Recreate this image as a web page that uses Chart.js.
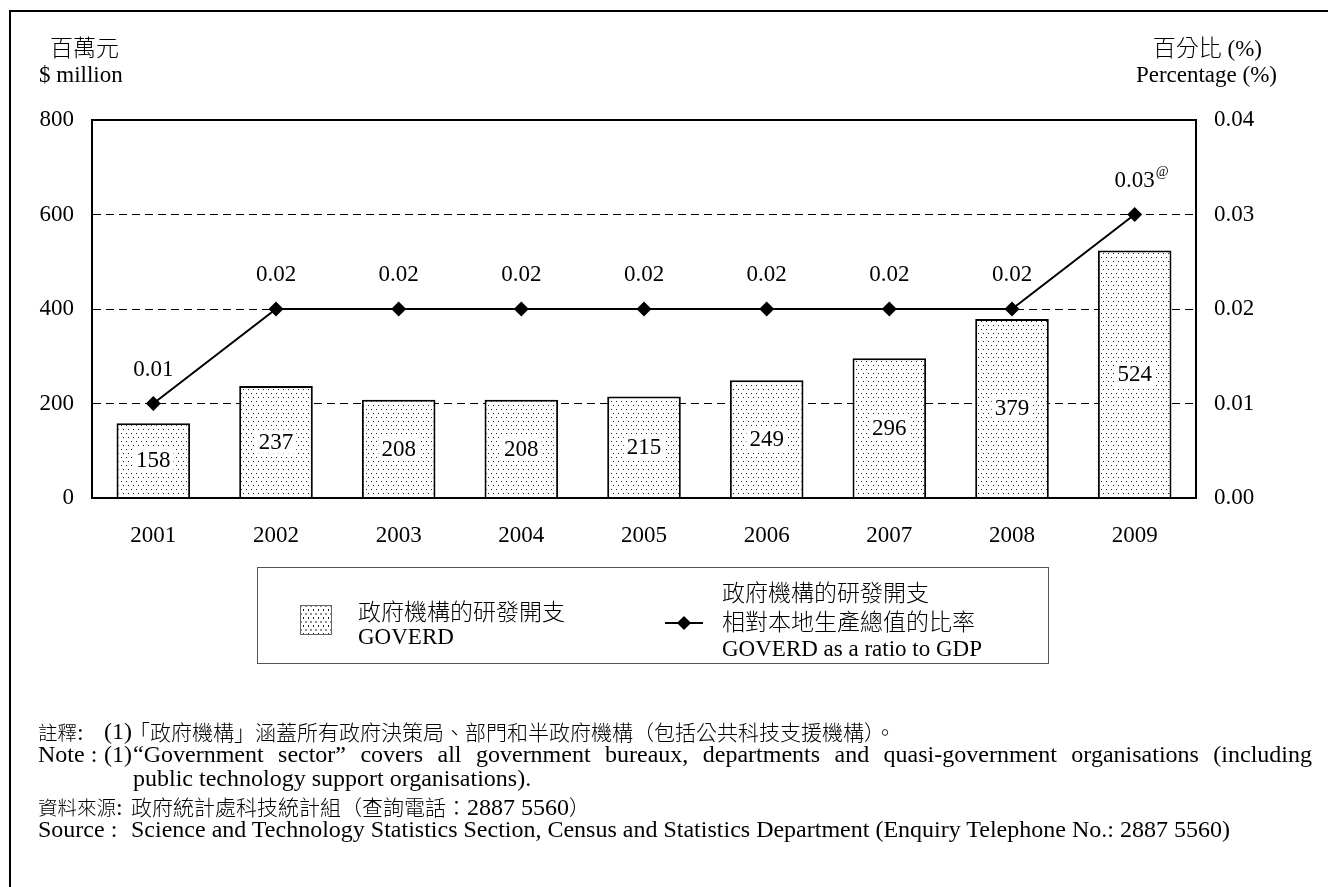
<!DOCTYPE html>
<html><head><meta charset="utf-8">
<script src="https://cdn.jsdelivr.net/npm/chart.js@4.4.1/dist/chart.umd.min.js"></script>
<style>
html,body{margin:0;padding:0;background:#fff;width:1328px;height:887px;overflow:hidden;}
body{position:relative;font-family:'Liberation Serif','Noto Sans CJK TC',serif;font-size:23px;color:#000;}
#frame{position:absolute;left:9px;top:10px;width:1400px;height:1000px;border-left:2px solid #000;border-top:2px solid #000;box-sizing:border-box;}
#c{position:absolute;left:0;top:0;z-index:1;}
.t{position:absolute;white-space:nowrap;line-height:23px;height:23px;z-index:2;}
.n{font-size:24px;}
.cjk{font-family:'Noto Sans CJK TC','Liberation Serif',sans-serif;font-weight:300;}
.n .cjk{font-size:21px;}
.n .cjk.lab{font-size:19.5px;}
#legend{position:absolute;left:257px;top:567px;width:792px;height:97px;border:1.5px solid #555;box-sizing:border-box;z-index:2;}
#sw{position:absolute;left:300px;top:605px;width:32px;height:30px;border:1px solid #666;box-sizing:border-box;z-index:3;
 background-color:#fff;
 background-image:radial-gradient(circle,#222 0.8px,rgba(0,0,0,0) 1.1px),radial-gradient(circle,#222 0.8px,rgba(0,0,0,0) 1.1px);
 background-size:5px 8px,5px 8px;background-position:0 0,2.5px 4px;}
#lm{position:absolute;left:665px;top:622px;width:38px;height:2px;background:#000;z-index:3;}
#ld{position:absolute;left:679px;top:618px;width:10px;height:10px;background:#000;transform:rotate(45deg);z-index:3;}
</style></head>
<body>
<div id="frame"></div>
<canvas id="c" width="1328" height="887"></canvas>

<div class="t cjk" style="left:50px;top:35px;">百萬元</div>
<div class="t" style="left:39px;top:63px;">$ million</div>
<div class="t" style="right:66px;top:35px;"><span class="cjk">百分比</span> (%)</div>
<div class="t" style="right:51px;top:63px;">Percentage (%)</div>

<div id="legend"></div>
<div id="sw"></div>
<div class="t cjk" style="left:358px;top:599px;">政府機構的研發開支</div>
<div class="t" style="left:358px;top:625px;">GOVERD</div>
<div id="lm"></div><div id="ld"></div>
<div class="t cjk" style="left:722px;top:580px;">政府機構的研發開支</div>
<div class="t cjk" style="left:722px;top:609px;">相對本地生產總值的比率</div>
<div class="t" style="left:722px;top:637px;">GOVERD as a ratio to GDP</div>

<div class="t n" style="left:38px;top:720px;"><span class="cjk lab">註釋</span>:</div>
<div class="t n" style="left:104px;top:720px;">(1)</div>
<div class="t n" style="left:129px;top:720px;"><span class="cjk">「政府機構」涵蓋所有政府決策局、部門和半政府機構（包括公共科技支援機構）。</span></div>
<div class="t n" style="left:38px;top:743px;">Note :</div>
<div class="t n" style="left:104px;top:743px;">(1)</div>
<div class="t n" style="left:133px;top:743px;width:1179px;text-align:justify;text-align-last:justify;white-space:normal;">“Government sector” covers all government bureaux, departments and quasi-government organisations (including</div>
<div class="t n" style="left:133px;top:767px;">public technology support organisations).</div>
<div class="t n" style="left:38px;top:795px;"><span class="cjk lab">資料來源</span>:</div>
<div class="t n" style="left:131px;top:795px;"><span class="cjk">政府統計處科技統計組（查詢電話：</span>2887 5560<span class="cjk">）</span></div>
<div class="t n" style="left:38px;top:818px;">Source :</div>
<div class="t n" style="left:131px;top:818px;">Science and Technology Statistics Section, Census and Statistics Department (Enquiry Telephone No.: 2887 5560)</div>

<script>
const years = ['2001','2002','2003','2004','2005','2006','2007','2008','2009'];
const goverd = [158,237,208,208,215,249,296,379,524];
const ratio = [0.01,0.02,0.02,0.02,0.02,0.02,0.02,0.02,0.03];
const ratioLabels = ['0.01','0.02','0.02','0.02','0.02','0.02','0.02','0.02','0.03'];
const ratioNotes = ['','','','','','','','','@'];
const leftTicks = [0,200,400,600,800];
const rightTicks = [0,0.01,0.02,0.03,0.04];

const FONT_FAMILY = "'Liberation Serif','Noto Sans CJK TC',serif";
const cv = document.getElementById('c');
const ctx0 = cv.getContext('2d');

function makePattern(){
  const p=document.createElement('canvas'); p.width=10; p.height=8;
  const g=p.getContext('2d');
  g.fillStyle='#fff'; g.fillRect(0,0,10,8);
  g.fillStyle='#222';
  g.fillRect(1,1,1,1); g.fillRect(6,1,1,1);
  g.fillRect(3,5,1,1); g.fillRect(8,5,1,1);
  return ctx0.createPattern(p,'repeat');
}

const labelPlugin = {
  id:'valueLabels',
  afterDatasetsDraw(chart){
    const ctx=chart.ctx;
    const a=chart.chartArea;
    ctx.save();
    ctx.lineWidth=2; ctx.strokeStyle='#000';
    ctx.strokeRect(a.left,a.top,a.right-a.left,a.bottom-a.top);
    ctx.font = "23px "+FONT_FAMILY;
    ctx.textAlign='center'; ctx.textBaseline='middle';
    const bm=chart.getDatasetMeta(0);
    bm.data.forEach((bar,i)=>{
      const p=bar.getProps(['x','y','base'],true);
      const cy=(p.y+p.base)/2;
      const txt=String(goverd[i]);
      const w=ctx.measureText(txt).width;
      ctx.fillStyle='#fff';
      ctx.fillRect(p.x-w/2-3, cy-12, w+6, 24);
      ctx.fillStyle='#000';
      ctx.fillText(txt,p.x,cy+1);
    });
    const lm=chart.getDatasetMeta(1);
    lm.data.forEach((pt,i)=>{
      const txt=ratioLabels[i];
      ctx.font = "23px "+FONT_FAMILY;
      ctx.textAlign='center';
      ctx.fillStyle='#000';
      ctx.fillText(txt,pt.x,pt.y-34);
      if(ratioNotes[i]){
        const w=ctx.measureText(txt).width;
        ctx.font = "14px "+FONT_FAMILY;
        ctx.textAlign='left';
        ctx.fillText(ratioNotes[i], pt.x+w/2+1, pt.y-42);
      }
    });
    ctx.restore();
  }
};

new Chart(cv,{
  data:{
    labels:years,
    datasets:[
      {type:'bar',label:'GOVERD',data:goverd,yAxisID:'y',
       backgroundColor:makePattern(),borderColor:'#000',borderWidth:2,
       barPercentage:0.6,categoryPercentage:1.0,order:2},
      {type:'line',label:'GOVERD as a ratio to GDP',data:ratio,yAxisID:'y1',
       borderColor:'#000',borderWidth:2,tension:0,fill:false,
       pointStyle:'rectRot',pointRadius:7.5,pointBackgroundColor:'#000',pointBorderColor:'#000',pointBorderWidth:0,order:1}
    ]
  },
  options:{
    responsive:false,maintainAspectRatio:false,animation:false,devicePixelRatio:1,
    layout:{padding:{top:120,left:0,right:0,bottom:0}},
    plugins:{legend:{display:false},tooltip:{enabled:false}},
    scales:{
      x:{
        grid:{display:false,drawTicks:false},
        border:{display:true,color:'#000',width:2},
        ticks:{color:'#000',font:{family:FONT_FAMILY,size:23},padding:24,maxRotation:0},
        afterFit(s){s.height=389;}
      },
      y:{
        position:'left',min:0,max:800,
        afterBuildTicks(s){s.ticks=leftTicks.map(v=>({value:v}));},
        grid:{drawTicks:false,lineWidth:1,color:(c)=>(c.tick&&(c.tick.value===0||c.tick.value===800))?'rgba(0,0,0,0)':'#000'},
        border:{display:true,color:'#000',width:2,dash:[8,5]},
        ticks:{color:'#000',font:{family:FONT_FAMILY,size:23},padding:18,callback:(v)=>String(v)},
        afterFit(s){s.width=92;}
      },
      y1:{
        position:'right',min:0,max:0.04,
        afterBuildTicks(s){s.ticks=rightTicks.map(v=>({value:v}));},
        grid:{drawOnChartArea:false,drawTicks:false},
        border:{display:true,color:'#000',width:2},
        ticks:{color:'#000',font:{family:FONT_FAMILY,size:23},padding:18,callback:(v)=>Number(v).toFixed(2)},
        afterFit(s){s.width=132;}
      }
    }
  },
  plugins:[labelPlugin]
});
</script>
</body></html>
